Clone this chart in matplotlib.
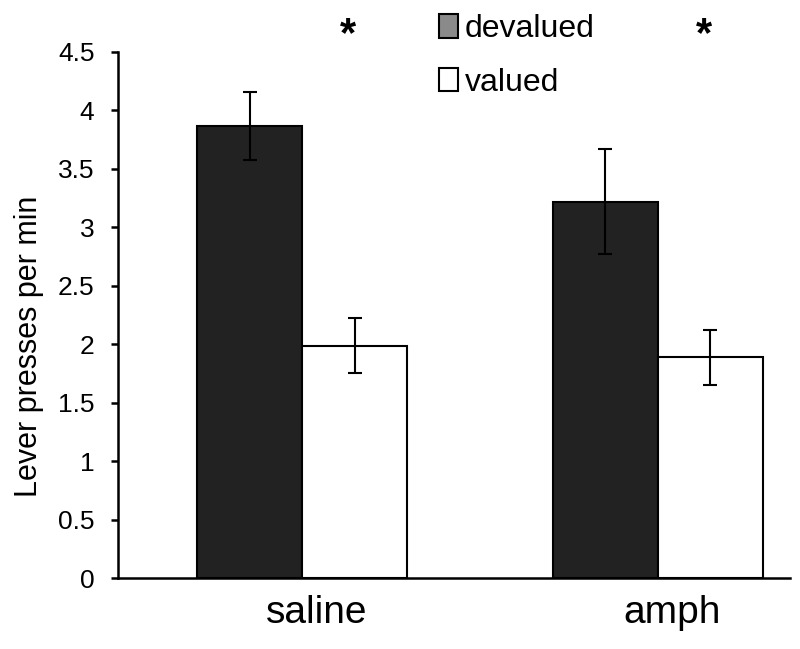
import matplotlib
matplotlib.use("Agg")
import matplotlib.pyplot as plt
from matplotlib.patches import Patch
import numpy as np

GROUPS = ["saline", "amph"]
DEVALUED_MEAN = [3.87, 3.22]
DEVALUED_ERR = [0.29, 0.45]
VALUED_MEAN = [1.99, 1.89]
VALUED_ERR = [0.235, 0.235]
YTICKS = [0, 0.5, 1, 1.5, 2, 2.5, 3, 3.5, 4, 4.5]
YTICK_LABELS = ["0", "0.5", "1", "1.5", "2", "2.5", "3", "3.5", "4", "4.5"]

plt.rcParams["font.family"] = ["Liberation Sans", "DejaVu Sans"]

fig = plt.figure(figsize=(8, 6.49), dpi=100)
ax = fig.add_axes([0.1475, 0.109, 0.84, 0.811])

x = np.arange(len(GROUPS))
w = 0.295
err_kw = dict(ecolor="black", elinewidth=1.5, capsize=5, capthick=1.5)
ax.bar(x - w / 2, DEVALUED_MEAN, w, yerr=DEVALUED_ERR, color="#222222",
       edgecolor="black", linewidth=1.5, error_kw=err_kw)
ax.bar(x + w / 2, VALUED_MEAN, w, yerr=VALUED_ERR, color="white",
       edgecolor="black", linewidth=1.5, error_kw=err_kw)

ax.set_xlim(-0.517, 1.371)
ax.set_ylim(0, 4.5)
ax.set_yticks(YTICKS)
ax.set_yticklabels(YTICK_LABELS)
ax.set_xticks(x + 0.04)
ax.set_xticklabels(GROUPS, fontsize=28)
ax.tick_params(axis="x", length=0, pad=12)
ax.tick_params(axis="y", direction="out", length=5, width=1.8, labelsize=19, pad=12)
ax.set_ylabel("Lever presses per min", fontsize=22)
ax.yaxis.set_label_coords(-0.11, 0.44)

for s in ["top", "right"]:
    ax.spines[s].set_visible(False)
for s in ["left", "bottom"]:
    ax.spines[s].set_linewidth(1.8)

# significance markers
for xi in x:
    ax.text(xi + 0.13, 4.64, "*", fontsize=30, fontweight="bold",
            ha="center", va="center", clip_on=False)

handles = [Patch(facecolor="#8a8a8a", edgecolor="black", linewidth=1.5, label="devalued"),
           Patch(facecolor="white", edgecolor="black", linewidth=1.5, label="valued")]
fig.legend(handles=handles, loc="upper left", bbox_to_anchor=(0.525, 1.008),
           frameon=False, fontsize=23, handlelength=0.6, handleheight=0.75,
           handletextpad=0.2, labelspacing=0.75, borderaxespad=0.2)

fig.savefig("out.png", dpi=100)
